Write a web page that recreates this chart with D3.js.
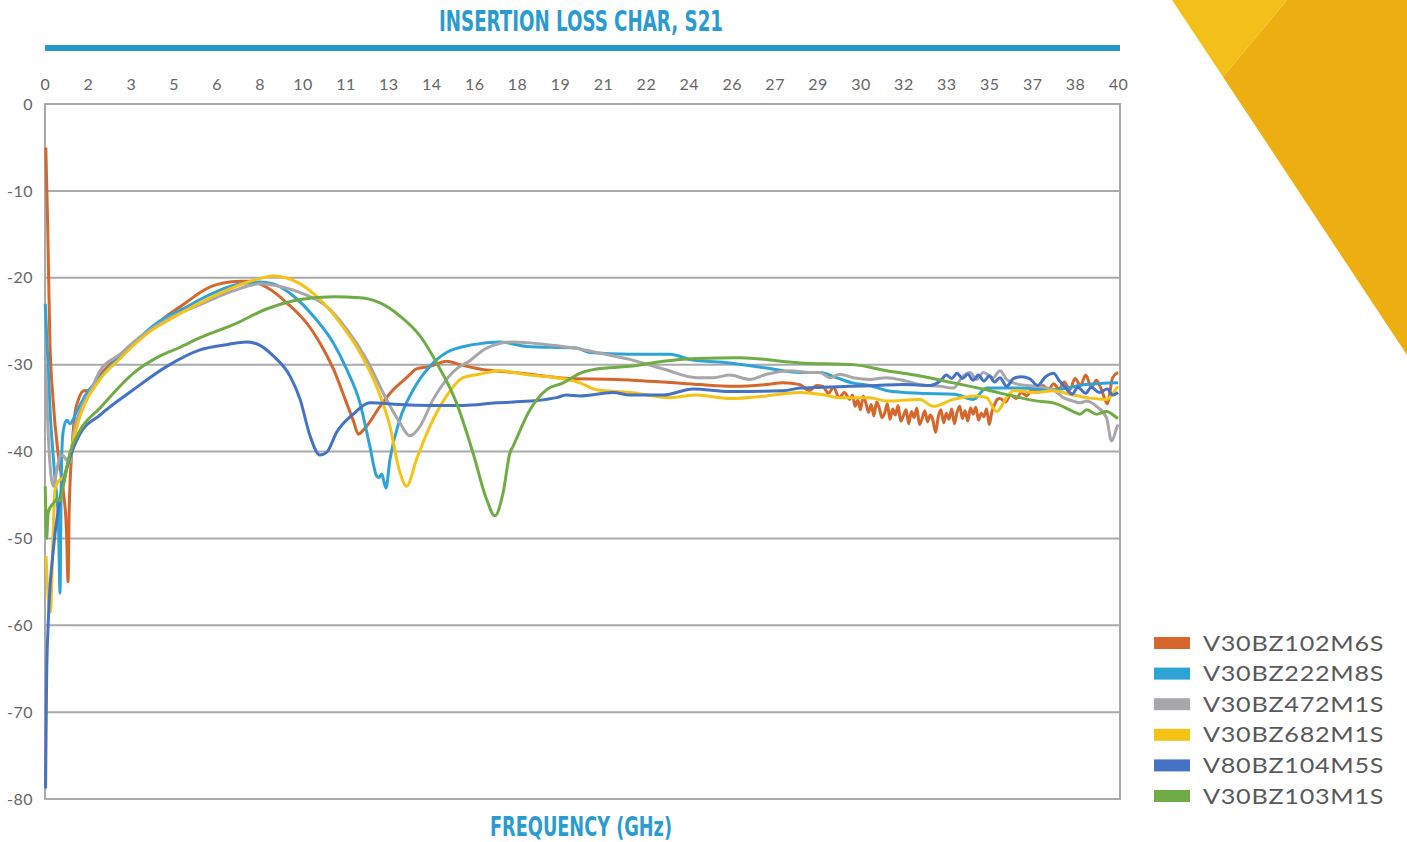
<!DOCTYPE html>
<meta charset="utf-8">
<style>

body {
  margin: 0;
  background: #fff;
}

text {
  font-family: Lato, "Open Sans", sans-serif;
}

</style>
<body>
<script src="https://cdn.jsdelivr.net/npm/d3@7/dist/d3.min.js"></script>
<script>

var width = 1407,
    height = 842;

// tick labels as printed on the chart (ticks every 1.6 GHz)
var xTickLabels = ["0","2","3","5","6","8","10","11","13","14","16","18","19","21","22","24","26","27","29","30","32","33","35","37","38","40"];
var yTicks = [0, -10, -20, -30, -40, -50, -60, -70, -80];

var names = ["V30BZ102M6S", "V30BZ222M8S", "V30BZ472M1S", "V30BZ682M1S", "V80BZ104M5S", "V30BZ103M1S"];
var colors = ["#d5662c", "#2ea3d6", "#a7a7ab", "#f5c216", "#4472c4", "#6fac45"];

// [GHz, dB]
var v102 = [[0.03,-5],[0.1,-14],[0.18,-27],[0.3,-34],[0.5,-40.5],[0.68,-44.5],[0.8,-49],[0.86,-55],[0.9,-47],[1.0,-40],[1.1,-36],[1.25,-34],[1.45,-33],[1.7,-33],[2.0,-31.5],[2.4,-30],[2.8,-29],[3.3,-27.5],[4.0,-25.8],[4.54,-24.4],[5.2,-23],[5.78,-21.7],[6.2,-21],[6.65,-20.6],[7.27,-20.4],[7.64,-20.4],[8.26,-21.1],[8.6,-21.8],[9.01,-22.9],[9.4,-24],[9.75,-25.2],[10.25,-27.5],[10.75,-30.5],[11.24,-34.4],[11.5,-36.5],[11.68,-38],[11.85,-37.6],[11.99,-37.1],[12.49,-34.8],[12.98,-32.9],[13.48,-31.5],[13.85,-30.5],[14.35,-30.2],[14.97,-29.6],[15.47,-30],[16.2,-30.5],[17.45,-30.9],[18.08,-31.1],[19.57,-31.6],[21.3,-31.7],[23.05,-32],[24.41,-32.3],[25.65,-32.5],[26.9,-32.3],[27.52,-32.1],[28.14,-32.3],[28.5,-33],[28.76,-32.4],[29.0,-32.5],[29.2,-33.3],[29.4,-32.6],[29.6,-33.8],[29.8,-33.2],[30.0,-34],[30.1,-33.5],[30.2,-34.8],[30.3,-34.1],[30.4,-35.2],[30.5,-33.6],[30.6,-34.4],[30.7,-35.5],[30.8,-34.6],[30.9,-35.9],[31.0,-34.3],[31.1,-35],[31.2,-36.1],[31.3,-35.6],[31.4,-34.5],[31.5,-36.3],[31.6,-35.1],[31.7,-35.8],[31.8,-34.7],[31.9,-36.5],[32.0,-35.9],[32.1,-35.2],[32.2,-36.8],[32.3,-35.4],[32.4,-36.1],[32.5,-35],[32.6,-36.9],[32.7,-36.2],[32.8,-35.3],[32.9,-36.6],[33.0,-35.8],[33.1,-36.4],[33.2,-37.8],[33.3,-36],[33.4,-35.2],[33.5,-36.7],[33.6,-35.6],[33.7,-36.3],[33.8,-35.1],[33.9,-36.8],[34.0,-35.5],[34.1,-34.8],[34.2,-36.2],[34.3,-35.3],[34.4,-36.5],[34.5,-35],[34.6,-35.7],[34.7,-34.9],[34.8,-36.4],[34.9,-35.6],[35.0,-36],[35.1,-35.1],[35.2,-36.9],[35.3,-35.4],[35.4,-34.6],[35.5,-34],[35.6,-33.9],[35.8,-34.3],[36.0,-33.5],[36.2,-33.9],[36.4,-33.2],[36.6,-33.6],[36.8,-32.8],[37.0,-33.2],[37.2,-32.4],[37.4,-32.9],[37.6,-32.2],[37.8,-32.8],[38.0,-32],[38.2,-32.9],[38.4,-31.6],[38.6,-32.4],[38.8,-31.2],[39.0,-32.6],[39.2,-31.8],[39.4,-33],[39.6,-34.5],[39.8,-31.5],[40,-30.9]];

var v222 = [[0.01,-23],[0.19,-35.4],[0.37,-43],[0.5,-48],[0.56,-56.3],[0.6,-45],[0.62,-40.7],[0.68,-37.6],[0.81,-36.4],[0.93,-36.8],[1.18,-35.4],[1.55,-33.3],[2.05,-31.5],[2.8,-29],[3.3,-27.6],[4.0,-25.6],[4.54,-24.5],[5.2,-23.5],[5.78,-22.5],[6.4,-21.6],[7.02,-20.9],[7.5,-20.6],[8.01,-20.5],[8.51,-20.7],[9.26,-22.1],[10,-24.4],[10.75,-27.5],[11.24,-30.5],[11.74,-34.4],[12.11,-39.4],[12.36,-42.8],[12.45,-43],[12.55,-42.6],[12.71,-44.2],[12.86,-40.9],[13.23,-36.3],[13.73,-32.9],[14.35,-30.2],[14.97,-28.6],[15.96,-27.7],[16.95,-27.4],[17.95,-27.9],[19.82,-28.1],[20.31,-28.6],[21.8,-28.8],[23.3,-28.8],[24.04,-29.4],[25.53,-29.8],[26.9,-30.4],[28.14,-30.9],[28.9,-30.9],[29.5,-31.5],[30.1,-32.1],[30.75,-32.4],[31.4,-33],[32.6,-33.3],[33.9,-33.4],[34.6,-34],[35.1,-32.7],[35.7,-32.7],[36.3,-32.7],[37.6,-32.9],[38.8,-32.3],[40,-32.1]];

var v472 = [[0.02,-30],[0.12,-38],[0.31,-44],[0.45,-42],[0.56,-40.5],[0.68,-40.5],[0.8,-41],[0.93,-41.3],[1.06,-38],[1.3,-35.4],[1.7,-33],[2.05,-30.7],[2.8,-28.8],[3.3,-27.4],[4.0,-25.8],[4.54,-24.8],[5.78,-23.1],[7.02,-21.5],[8.01,-20.7],[8.76,-21],[9.51,-21.7],[10.5,-23.3],[11.24,-25.9],[11.99,-29.4],[12.73,-34],[13.23,-36.7],[13.6,-38.2],[13.98,-37.1],[14.47,-34],[14.97,-31.7],[15.47,-30.2],[15.72,-29.8],[16.46,-28.1],[17.45,-27.4],[18.69,-27.7],[19.94,-28.2],[20.56,-28.6],[21.8,-29.4],[23.05,-30.5],[24.29,-31.5],[24.91,-31.5],[25.53,-31.2],[26.27,-31.7],[26.9,-31.1],[27.77,-30.7],[28.5,-30.9],[28.89,-30.9],[29.26,-31.5],[29.63,-31.1],[30.13,-31.5],[30.75,-31.7],[31.37,-31.5],[32.1,-31.9],[32.62,-32.3],[33.36,-32.5],[33.86,-32.7],[34.23,-31.3],[34.48,-30.9],[34.73,-31.7],[34.98,-30.9],[35.35,-31.5],[35.6,-30.7],[35.85,-31.7],[36.34,-32.3],[36.96,-32.5],[37.59,-32.9],[37.96,-33.8],[38.33,-34.2],[38.58,-34.4],[38.83,-34.2],[39.2,-34.8],[39.57,-36.1],[39.76,-38.8],[39.95,-37.3],[40,-36.9]];

var v682 = [[0.04,-52],[0.1,-56],[0.2,-58.5],[0.3,-50],[0.37,-44.4],[0.5,-43.4],[0.68,-43],[0.93,-40.2],[1.3,-36],[2.05,-31.7],[2.8,-29.3],[3.3,-27.8],[4.0,-26],[4.54,-25],[5.78,-22.9],[7.02,-21.1],[8.0,-20.1],[8.51,-19.8],[9.51,-20.7],[10.25,-22.5],[11.0,-25.2],[11.74,-28.6],[12.36,-32.5],[12.86,-37.1],[13.23,-42.4],[13.48,-44],[13.85,-40.9],[14.35,-37.1],[14.97,-33.6],[15.59,-31.5],[16.21,-31.1],[16.95,-30.7],[18.07,-31.2],[18.45,-31.3],[19.94,-32.1],[20.56,-32.9],[21.8,-33.2],[23.3,-33.8],[24.29,-33.5],[25.53,-33.9],[26.9,-33.6],[28.14,-33.2],[28.89,-33.4],[29.63,-33.8],[30.75,-33.8],[31.37,-34.2],[32.62,-34],[33.11,-34.8],[33.86,-34],[34.73,-33.6],[35.1,-33.8],[35.48,-35.4],[35.85,-33.8],[36.1,-33],[36.96,-33.2],[37.59,-33],[38.2,-33.4],[38.83,-33.8],[39.57,-34],[39.95,-32.7],[40,-32.5]];

var v104 = [[0.02,-78.8],[0.06,-66],[0.12,-59.8],[0.31,-51.3],[0.56,-45.5],[0.93,-40.7],[1.3,-38],[2.05,-35.8],[3.29,-32.9],[4.54,-30.2],[5.78,-28.3],[6.77,-27.7],[7.52,-27.4],[7.89,-27.6],[8.51,-29],[9.13,-31.3],[9.51,-34],[9.88,-38.2],[10.25,-40.4],[10.5,-40.1],[10.87,-37.8],[11.49,-35.7],[12.11,-34.4],[13.23,-34.6],[14.35,-34.7],[15.59,-34.7],[16.83,-34.4],[18.08,-34.2],[19.07,-33.8],[19.44,-33.5],[19.94,-33.6],[21.18,-33.2],[21.8,-33.5],[23.05,-33.5],[24.16,-32.8],[25.53,-33.1],[27.52,-33],[28.14,-32.7],[29.0,-32.6],[30.0,-32.5],[31.0,-32.4],[32.0,-32.3],[33.0,-32.4],[33.4,-31.8],[33.6,-31.2],[33.8,-31.6],[34.0,-31],[34.2,-31.6],[34.4,-31.1],[34.6,-31.8],[34.8,-31.2],[35.0,-31.9],[35.2,-31.3],[35.4,-32],[35.6,-31.5],[35.85,-32.5],[36.1,-31.6],[36.4,-31.4],[36.7,-31.6],[37.0,-32.4],[37.3,-31.4],[37.6,-31],[37.8,-31.8],[38.0,-32.5],[38.3,-33.4],[38.5,-32.6],[38.8,-33.3],[39.0,-32.6],[39.3,-33.2],[39.6,-32.8],[39.8,-33.5],[40,-33.2]];

var v103 = [[0.01,-44],[0.06,-50],[0.12,-47],[0.3,-46],[0.45,-45.5],[0.56,-45.7],[0.68,-44],[0.93,-40.2],[1.3,-37.6],[2.05,-35],[3.29,-31],[4.29,-29],[5.03,-28],[5.78,-26.9],[7.02,-25.4],[8.26,-23.6],[9.51,-22.5],[10.75,-22.2],[11.74,-22.3],[12.49,-22.9],[13.23,-24.4],[13.98,-26.7],[14.6,-29.8],[15.34,-34.4],[15.96,-40.2],[16.46,-45.5],[16.77,-47.4],[17.08,-44.7],[17.33,-40.2],[17.45,-39.4],[18.08,-35.2],[18.69,-32.9],[19.32,-32.1],[19.94,-31],[20.56,-30.5],[21.8,-30.2],[23.05,-29.6],[24.29,-29.3],[25.9,-29.2],[28.14,-29.8],[30.13,-30],[31.37,-30.7],[32.62,-31.3],[33.86,-32.1],[35.1,-32.9],[36.34,-33.8],[37.0,-34.2],[37.59,-34.4],[38.33,-35.4],[38.58,-35.7],[38.83,-35.2],[39.2,-35.7],[39.57,-35.4],[39.95,-36.1],[40,-36.2]];

var series = [v102, v222, v472, v682, v104, v103];

var svg = d3.select("body").append("svg")
    .attr("width", width)
    .attr("height", height);

// corner decoration
svg.append("polygon")
    .attr("points", "1287,0 1407,0 1407,355 1223,77")
    .attr("fill", "#edae11");
svg.append("polygon")
    .attr("points", "1172,0 1287,0 1223,77")
    .attr("fill", "#f3c01a");

var x = d3.scaleLinear().domain([0, 40]).range([45, 1118]),
    y = d3.scaleLinear().domain([-80, 0]).range([799, 104]);

// title + bar
svg.append("text")
    .attr("x", 581)
    .attr("y", 31)
    .attr("text-anchor", "middle")
    .attr("textLength", 284)
    .attr("lengthAdjust", "spacingAndGlyphs")
    .style("font-family", "'Liberation Sans Narrow', 'DejaVu Sans Condensed', sans-serif")
    .style("font-weight", "bold")
    .style("font-size", "28px")
    .attr("fill", "#2a9bd1")
    .text("INSERTION LOSS CHAR, S21");

svg.append("rect")
    .attr("x", 45)
    .attr("y", 45)
    .attr("width", 1075)
    .attr("height", 6)
    .attr("fill", "#2597cd");

// grid
svg.append("g")
    .selectAll("line")
    .data(yTicks)
  .enter().append("line")
    .attr("x1", 45)
    .attr("x2", 1120)
    .attr("y1", function(d) { return y(d); })
    .attr("y2", function(d) { return y(d); })
    .attr("stroke", "#a9a9ac")
    .attr("stroke-width", 2);

svg.append("rect")
    .attr("x", 45)
    .attr("y", y(0))
    .attr("width", 1075)
    .attr("height", y(-80) - y(0))
    .attr("fill", "none")
    .attr("stroke", "#a9a9ac")
    .attr("stroke-width", 2);

// axes, tick marks hidden
var xAxis = d3.axisTop(x)
    .tickValues(xTickLabels.map(function(d, i) { return i * 1.6; }))
    .tickFormat(function(d, i) { return xTickLabels[i]; })
    .tickSize(0)
    .tickPadding(0);

var gx = svg.append("g")
    .attr("transform", "translate(0,90)")
    .call(xAxis);

var yAxis = d3.axisLeft(y)
    .tickValues(yTicks)
    .tickFormat(function(d) { return String(d); })
    .tickSize(0)
    .tickPadding(0);

var gy = svg.append("g")
    .attr("transform", "translate(33,0)")
    .call(yAxis);

[gx, gy].forEach(function(g) {
  g.select(".domain").remove();
  g.selectAll("text")
      .style("font-family", "Lato, sans-serif")
      .style("font-size", "16px")
      .style("letter-spacing", "0.5px")
      .attr("fill", "#666");
});
gy.selectAll("text").attr("dy", "0.32em");

// curves
var line = d3.line()
    .x(function(d) { return x(d[0]); })
    .y(function(d) { return y(d[1]); })
    .curve(d3.curveMonotoneX);

svg.append("g")
    .selectAll("path")
    .data(series)
  .enter().append("path")
    .attr("d", line)
    .attr("fill", "none")
    .attr("stroke", function(d, i) { return colors[i]; })
    .attr("stroke-width", 3)
    .attr("stroke-linejoin", "round");

// x label
svg.append("text")
    .attr("x", 581)
    .attr("y", 836)
    .attr("text-anchor", "middle")
    .attr("textLength", 182)
    .attr("lengthAdjust", "spacingAndGlyphs")
    .style("font-family", "'Liberation Sans Narrow', 'DejaVu Sans Condensed', sans-serif")
    .style("font-weight", "bold")
    .style("font-size", "27px")
    .attr("fill", "#2a9bd1")
    .text("FREQUENCY (GHz)");

// legend
var legend = svg.append("g")
    .selectAll("g")
    .data(names)
  .enter().append("g")
    .attr("transform", function(d, i) { return "translate(1154," + (643 + i * 30.6) + ")"; });

legend.append("rect")
    .attr("y", -6)
    .attr("width", 36)
    .attr("height", 12)
    .attr("fill", function(d, i) { return colors[i]; });

// wide face: stretch Lato sideways
legend.append("text")
    .attr("transform", "translate(49,0) scale(1.2,1)")
    .attr("dy", "0.36em")
    .style("font-size", "21px")
    .style("letter-spacing", "0.6px")
    .attr("fill", "#595959")
    .text(function(d) { return d; });

</script>
